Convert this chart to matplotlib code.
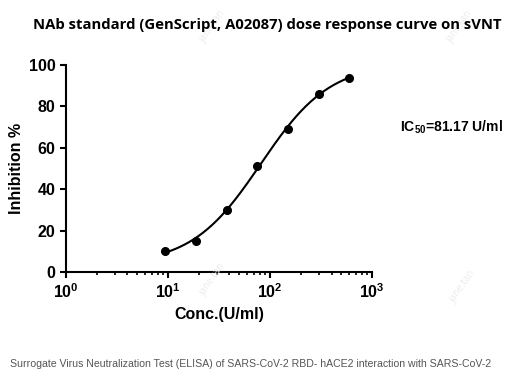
import matplotlib
matplotlib.use("Agg")
import matplotlib.pyplot as plt
import numpy as np

# data
conc = [9.375, 18.75, 37.5, 75, 150, 300, 600]   # U/ml
inhib = [10, 15, 30, 51, 69, 86, 94]              # %
ic50 = 81.17
xticks = [1, 10, 100, 1000]
xticklabels = ["$\\mathbf{10^0}$", "$\\mathbf{10^1}$", "$\\mathbf{10^2}$", "$\\mathbf{10^3}$"]
yticks = [0, 20, 40, 60, 80, 100]
# faint watermark spots (pixels from top-left)
marks = [(213, 27), (460, 27), (213, 280), (463, 287)]


def logistic(x, bottom, top, hill):
    return bottom + (top - bottom) / (1 + (ic50 / x) ** hill)


def fit_4pl(x, y):
    # crude grid fit, IC50 fixed from the annotation
    x = np.array(x, dtype=float)
    y = np.array(y, dtype=float)
    best = None
    for b in np.linspace(-10, 15, 51):
        for t in np.linspace(85, 120, 71):
            for h in np.linspace(0.6, 2.0, 71):
                err = np.sum((logistic(x, b, t, h) - y) ** 2)
                if best is None or err < best[0]:
                    best = (err, b, t, h)
    return best[1:]


def main():
    plt.rcParams['font.family'] = ['Liberation Sans', 'DejaVu Sans']
    plt.rcParams['mathtext.fontset'] = 'custom'
    plt.rcParams['mathtext.bf'] = 'Liberation Sans:bold'
    plt.rcParams['mathtext.rm'] = 'Liberation Sans'
    fig = plt.figure(figsize=(5.14, 3.70), dpi=100)
    ax = fig.add_axes([0.128, 0.265, 0.596, 0.559])

    for (px, py) in marks:
        fig.text(px / 514, 1 - py / 370, "jane.tan", rotation=55, ha='center', va='center',
                 fontsize=7, color='#ececec', family=['Open Sans', 'DejaVu Sans'])

    b, t, h = fit_4pl(conc, inhib)
    xs = np.logspace(np.log10(conc[0]), np.log10(conc[-1]), 200)
    ax.plot(xs, logistic(xs, b, t, h), color='black', lw=1.5)
    ax.plot(conc, inhib, 'o', color='black', markersize=5.5)

    ax.set_xscale('log')
    ax.set_xlim(1, 1000)
    ax.set_ylim(0, 100)
    ax.set_xticks(xticks)
    ax.set_xticklabels(xticklabels)
    ax.set_yticks(yticks)
    ax.spines['top'].set_visible(False)
    ax.spines['right'].set_visible(False)
    for s in ['left', 'bottom']:
        ax.spines[s].set_linewidth(1.5)
    ax.tick_params(which='major', length=4, width=1.5, labelsize=11.5)
    ax.tick_params(which='minor', length=2.5, width=1.2)
    for lab in ax.get_yticklabels():
        lab.set_fontweight('bold')

    ax.set_xlabel("Conc.(U/ml)", fontsize=11.5, fontweight='bold', labelpad=4)
    ax.set_ylabel("Inhibition %", fontsize=11.5, fontweight='bold', labelpad=3)

    fig.text(0.52, 0.932, "NAb standard (GenScript, A02087) dose response curve on sVNT",
             ha='center', va='center', fontsize=10.7, fontweight='bold', family=['Open Sans', 'DejaVu Sans'])
    fig.text(0.778, 0.657, "IC$_{\\mathbf{50}}$=81.17 U/ml", ha='left', va='center',
             fontsize=10, fontweight='bold')
    fig.text(0.02, 0.015, "Surrogate Virus Neutralization Test (ELISA) of SARS-CoV-2 RBD- hACE2 interaction with SARS-CoV-2",
             ha='left', va='center', fontsize=7.6, color='#555555')

    fig.savefig("out.png", dpi=100)


main()
